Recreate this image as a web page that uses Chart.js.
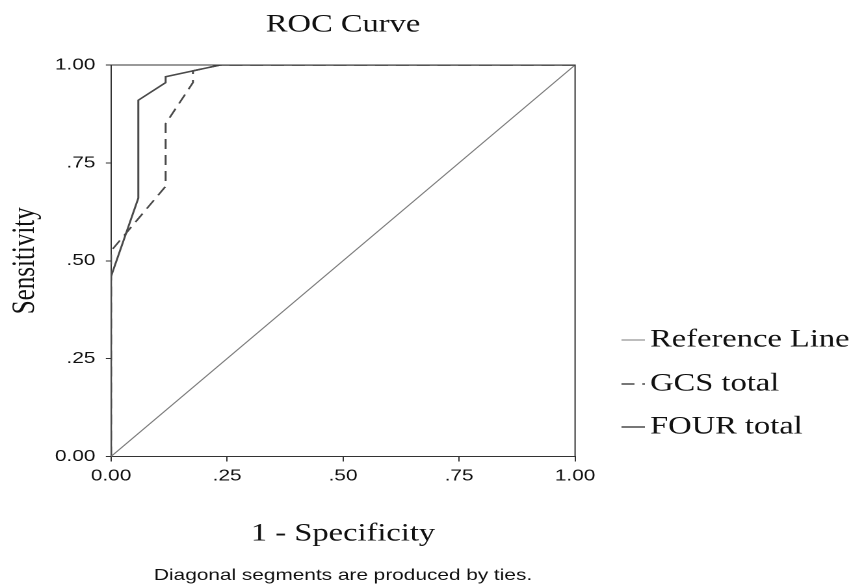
<!DOCTYPE html>
<html>
<head>
<meta charset="utf-8">
<script src="https://cdn.jsdelivr.net/npm/chart.js@4"></script>
<style>
  html, body { margin: 0; padding: 0; background: #ffffff; overflow: hidden; }
  #wrap { position: absolute; left: 0; top: 0; width: 663px; height: 585px; transform: scaleX(1.3002); transform-origin: 0 0; }
</style>
</head>
<body>
<div id="wrap"><canvas id="c"></canvas></div>
<script>
// ---- data ----
const seriesNames = ['Reference Line', 'GCS total', 'FOUR total'];
const refX  = [0, 1];
const refY  = [0, 1];
const gcsX  = [0, 0, 0.1176, 0.1176, 0.1765, 0.1765, 0.2353, 1];
const gcsY  = [0, 0.525, 0.69, 0.85, 0.955, 0.985, 1, 1];
const fourX = [0, 0, 0.0588, 0.0588, 0.1176, 0.1176, 0.1765, 0.2353, 1];
const fourY = [0, 0.46, 0.66, 0.91, 0.955, 0.97, 0.985, 1, 1];
const xTickLabels = ['0.00', '.25', '.50', '.75', '1.00'];
const yTickLabels = ['0.00', '.25', '.50', '.75', '1.00'];
const chartTitle = 'ROC Curve';
const xTitle = '1 - Specificity';
const yTitle = 'Sensitivity';
const footnote = 'Diagonal segments are produced by ties.';

const pts = (xs, ys) => xs.map((x, i) => ({ x: x, y: ys[i] }));

const serif = 'Liberation Serif';
const sans = 'Liberation Sans';

const boxPlugin = {
  id: 'plotBox',
  afterDatasetsDraw(chart) {
    const { ctx, chartArea: a } = chart;
    ctx.save();
    ctx.strokeStyle = '#333';
    ctx.lineWidth = 1;
    ctx.beginPath();
    ctx.moveTo(a.left, a.top);
    ctx.lineTo(a.right, a.top);
    ctx.lineTo(a.right, a.bottom);
    ctx.stroke();
    ctx.restore();
  }
};

const legendPlugin = {
  id: 'sideLegend',
  afterDraw(chart) {
    const ctx = chart.ctx;
    const ys = [340, 384, 427];
    const x0 = 478, x1 = 496, tx = 500;
    ctx.save();
    chart.data.datasets.forEach((ds, i) => {
      ctx.strokeStyle = ds.borderColor;
      ctx.lineWidth = ds.borderWidth;
      ctx.setLineDash(ds.borderDash || []);
      ctx.beginPath();
      ctx.moveTo(x0, ys[i]);
      ctx.lineTo(x1, ys[i]);
      ctx.stroke();
      ctx.setLineDash([]);
      ctx.fillStyle = '#111';
      ctx.font = '25px "' + serif + '"';
      ctx.textBaseline = 'middle';
      ctx.textAlign = 'left';
      ctx.fillText(ds.label, tx, ys[i]);
    });
    ctx.restore();
  }
};

Chart.defaults.color = '#111';

new Chart(document.getElementById('c'), {
  type: 'scatter',
  data: {
    datasets: [
      { label: seriesNames[0], data: pts(refX, refY), showLine: true, borderColor: '#7a7a7a', borderWidth: 1, pointRadius: 0, tension: 0 },
      { label: seriesNames[1], data: pts(gcsX, gcsY), showLine: true, borderColor: '#4a4a4a', borderWidth: 1.5, borderDash: [10, 6], pointRadius: 0, tension: 0 },
      { label: seriesNames[2], data: pts(fourX, fourY), showLine: true, borderColor: '#4a4a4a', borderWidth: 1.5, pointRadius: 0, tension: 0 }
    ]
  },
  options: {
    responsive: true,
    maintainAspectRatio: false,
    animation: false,
    devicePixelRatio: 2,
    layout: { padding: { left: 0, right: 220.7, top: 0, bottom: 0 } },
    plugins: {
      legend: { display: false },
      tooltip: { enabled: false },
      title: {
        display: true, text: chartTitle, fullSize: false, color: '#111',
        font: { family: serif, size: 25, weight: 'normal' },
        padding: { top: 10, bottom: 25 }
      },
      subtitle: {
        display: true, text: footnote, position: 'bottom', fullSize: false, color: '#111',
        font: { family: sans, size: 16, weight: 'normal' },
        padding: { top: 9.8, bottom: 0 }
      }
    },
    scales: {
      x: {
        type: 'linear', min: 0, max: 1,
        afterFit: (s) => { s.height = 99.5; },
        ticks: { stepSize: 0.25, padding: 5, color: '#111', font: { family: sans, size: 16 },
                 callback: (v, i) => xTickLabels[i] },
        grid: { display: true, drawOnChartArea: false, drawTicks: true, tickLength: 5, color: '#333' },
        border: { display: true, color: '#333', width: 1 },
        title: { display: true, text: xTitle, color: '#111', font: { family: serif, size: 25 }, padding: { top: 0, bottom: 7 } }
      },
      y: {
        type: 'linear', min: 0, max: 1,
        afterFit: (s) => { s.width = 85.4; },
        ticks: { stepSize: 0.25, padding: 8, color: '#111', font: { family: sans, size: 16 },
                 callback: (v, i) => yTickLabels[i] },
        grid: { display: true, drawOnChartArea: false, drawTicks: true, tickLength: 4, color: '#333' },
        border: { display: true, color: '#333', width: 1 },
        title: { display: true, text: yTitle, color: '#111', font: { family: serif, size: 25 }, padding: { top: 4.2, bottom: 0 } }
      }
    }
  },
  plugins: [boxPlugin, legendPlugin]
});
</script>
</body>
</html>
